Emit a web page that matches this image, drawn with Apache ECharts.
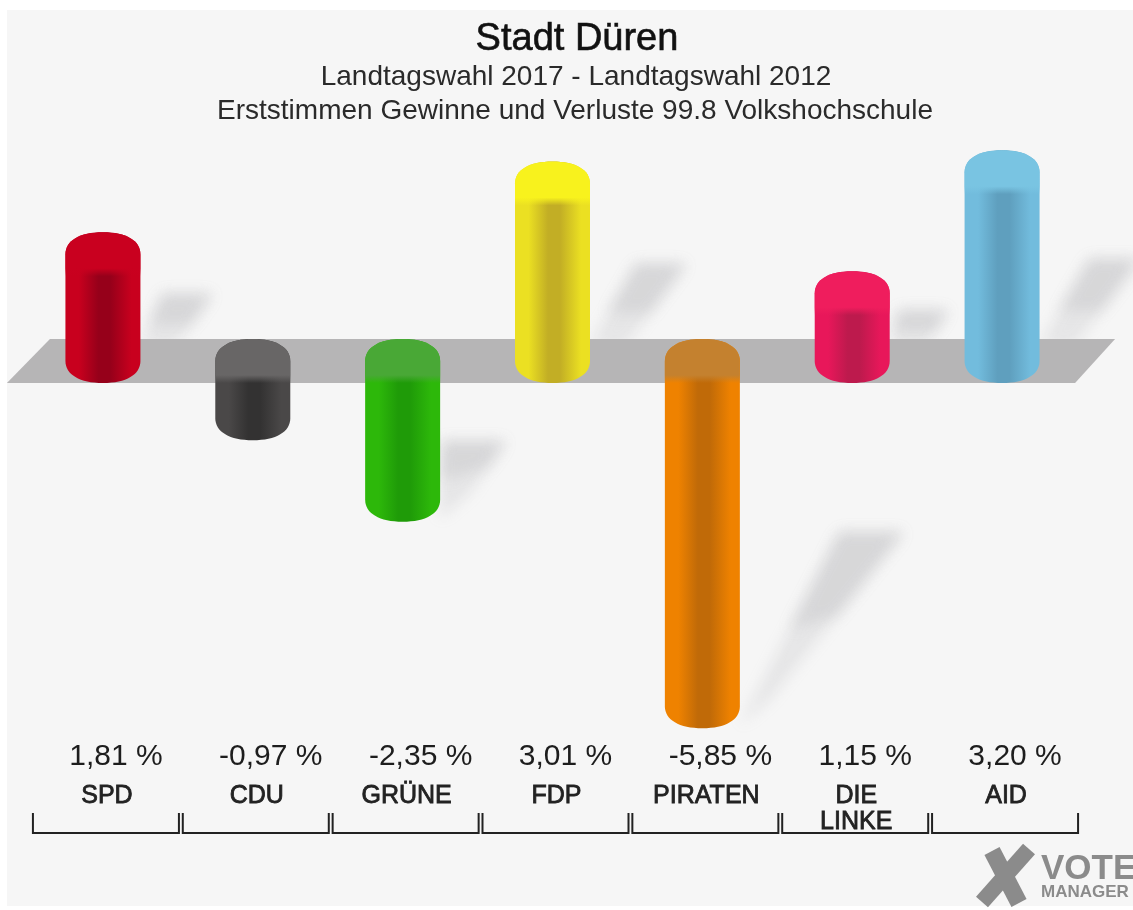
<!DOCTYPE html>
<html><head><meta charset="utf-8">
<style>html,body{margin:0;padding:0;background:#fff}#c{width:1133px;height:910px}</style>
<script src="https://cdn.jsdelivr.net/npm/echarts@6/dist/echarts.min.js"></script>
</head><body><div id="c"></div>
<script>
const categories = ['SPD','CDU','GRÜNE','FDP','PIRATEN','DIE\nLINKE','AID'];
const values = [1.81,-0.97,-2.35,3.01,-5.85,1.15,3.20];
const edgeColors = ['#c8001e','#4a4848','#2db80a','#ebe022','#ef8200','#e8175a','#72bcdd'];
const coreColors = ['#96001a','#333232','#1f9b08','#c2ae25','#c06a08','#bd1a4d','#5f9fbe'];
const capColors  = ['#c9001f','#686666','#49a836','#f8f21d','#c4812f','#ef1d5d','#79c4e2'];

const FONT = '"Liberation Sans", Arial, Helvetica, sans-serif';
const HALF = 37.5, RY = 22;

function capsule(x0, x1, yTop, yBot) {
  const c = (x0 + x1) / 2, k = 0.62;
  const h = (x1 - x0) / 2 * k, v = RY * k;
  return `M${x0} ${yTop+RY} C${x0} ${yTop+RY-v} ${c-h} ${yTop} ${c} ${yTop} C${c+h} ${yTop} ${x1} ${yTop+RY-v} ${x1} ${yTop+RY} L${x1} ${yBot-RY} C${x1} ${yBot-RY+v} ${c+h} ${yBot} ${c} ${yBot} C${c-h} ${yBot} ${x0} ${yBot-RY+v} ${x0} ${yBot-RY} Z`;
}
function capTop(x0, x1, yTop) {
  const c = (x0 + x1) / 2, k = 0.62;
  const h = (x1 - x0) / 2 * k, v = RY * k;
  return `M${x0} ${yTop+2*RY} L${x0} ${yTop+RY} C${x0} ${yTop+RY-v} ${c-h} ${yTop} ${c} ${yTop} C${c+h} ${yTop} ${x1} ${yTop+RY-v} ${x1} ${yTop+RY} L${x1} ${yTop+2*RY} Z`;
}
function hGrad(edge, core) {
  return {type:'linear',x:0,y:0,x2:1,y2:0,colorStops:[
    {offset:0,color:edge},{offset:.18,color:edge},{offset:.44,color:core},{offset:.6,color:core},{offset:.88,color:edge},{offset:1,color:edge}]};
}
function renderBand(params, api) {
  const a = api.coord([0, 0]), b = api.coord([categories.length - 1, 0]);
  return {type:'polygon', shape:{points:[
    [a[0]-53,a[1]-RY],[b[0]+113,b[1]-RY],[b[0]+73,b[1]+RY],[a[0]-96,a[1]+RY]]},
    style:{fill:'#b6b5b6'}};
}
const AWAY = 3000;
function renderShadow(params, api) {
  const v = api.value(1), i = api.value(0);
  const base = api.coord([i, 0]), tip = api.coord([i, v]);
  const R = base[0] + HALF;
  const m = Math.abs(v);
  let pts;
  if (v >= 0) {
    const y = base[1] - RY + 6, dy = 25*m + 6, dx = 20*m;
    pts = [[R,y],[R+36,y],[R+36+dx,y-dy],[R+dx-14,y-dy]];
  } else {
    if (m < 1) return null;
    const y = tip[1] + RY - 3, dy = 33*m, dx = 28*m;
    pts = [[R,y],[R+dx-64,y-dy],[R+dx,y-dy],[R+30,y-26]];
  }
  const mid = (a,b,t)=>[a[0]+(b[0]-a[0])*t,a[1]+(b[1]-a[1])*t];
  const upper = v >= 0
    ? [mid(pts[1],pts[2],.4),pts[2],pts[3],mid(pts[0],pts[3],.4)]
    : [pts[1],pts[2],mid(pts[2],pts[3],.5),mid(pts[1],pts[0],.5)];
  const soft = (p,a,blur)=>({type:'polygon',shape:{points:p.map(q=>[q[0]-AWAY,q[1]])},
    style:{fill:'#000',shadowBlur:blur,shadowOffsetX:AWAY,shadowColor:'rgba(175,175,178,'+a+')'}});
  return {type:'group',children:[soft(pts,.22,14),soft(upper,.28,14)]};
}
function renderBar(params, api) {
  const i = api.value(0), v = api.value(1);
  const base = api.coord([i, 0]), end = api.coord([i, v]);
  const x0 = base[0]-HALF, x1 = base[0]+HALF;
  const yTop = Math.min(base[1], end[1]) - RY, yBot = Math.max(base[1], end[1]) + RY;
  return {type:'group', children:[
    {type:'path', shape:{pathData:capsule(x0,x1,yTop,yBot)}, style:{fill:hGrad(edgeColors[i],coreColors[i])}},
    {type:'path', shape:{pathData:capTop(x0,x1,yTop)}, style:{fill:{type:'linear',x:0,y:0,x2:0,y2:1,colorStops:[
      {offset:0,color:capColors[i]},{offset:.82,color:capColors[i]},{offset:1,color:capColors[i]+'00'}]}}}
  ]};
}
function renderBracket(params, api) {
  const i = api.value(0);
  const p = api.coord([i, -8]);
  return {type:'polyline', shape:{points:[[p[0]-70,p[1]-20],[p[0]-70,p[1]],[p[0]+76,p[1]],[p[0]+76,p[1]-20]]},
    style:{stroke:'#222',lineWidth:2,fill:'none'}};
}
function renderValue(params, api) {
  const i = api.value(0), v = api.value(1);
  const p = api.coord([i, -6.70]);
  return {type:'text', x:p[0]+(v<0?18:13), y:p[1], style:{
    text:v.toFixed(2).replace('.',',')+' %', font:'30px '+FONT, fill:'#1d1d1d', align:'center', verticalAlign:'middle'}};
}
const seriesData = values.map((v,i)=>[i,v]);
const custom = (name,renderItem,z,data)=>({name,type:'custom',coordinateSystem:'cartesian2d',renderItem,z,data:data||seriesData,clip:false,silent:true,animation:false});

const chart = echarts.init(document.getElementById('c'), null, {renderer:'canvas'});
chart.setOption({
  animation:false,
  backgroundColor:'#ffffff',
  title:[
    {text:'Stadt Düren',left:572,top:16,textAlign:'center',textStyle:{fontFamily:FONT,fontSize:38,fontWeight:'normal',color:'#111',textBorderColor:'#111',textBorderWidth:.6}},
    {text:'Landtagswahl 2017 - Landtagswahl 2012',left:571,top:58,textAlign:'center',textStyle:{fontFamily:FONT,fontSize:28,fontWeight:'normal',color:'#2a2a2a'}},
    {text:'Erststimmen Gewinne und Verluste 99.8 Volkshochschule',left:570,top:92,textAlign:'center',textStyle:{fontFamily:FONT,fontSize:28,fontWeight:'normal',color:'#2a2a2a'}}
  ],
  graphic:[
    {type:'rect',z:-10,shape:{x:7,y:10,width:1126,height:896},style:{fill:'#f6f6f6'},silent:true},
    {type:'group',z:5,silent:true,children:[
      {type:'line',shape:{x1:982,y1:902,x2:1029,y2:849},style:{stroke:'#8b8b8b',lineWidth:16}},
      {type:'line',shape:{x1:992,y1:851,x2:1019,y2:903},style:{stroke:'#8b8b8b',lineWidth:17}},
      {type:'text',x:1041,y:852,style:{text:'VOTE',font:'bold 35px '+FONT,fill:'#8b8b8b'}},
      {type:'text',x:1041,y:884,style:{text:'MANAGER',font:'bold 17px '+FONT,fill:'#8b8b8b'}}
    ]}
  ],
  grid:{left:28,top:125,width:1049,height:708,containLabel:false},
  xAxis:{type:'category',data:categories,axisLine:{show:false},axisTick:{show:false},splitLine:{show:false},
    axisLabel:{inside:true,margin:50,verticalAlign:'top',interval:0,padding:[0,0,0,8],fontFamily:FONT,fontSize:25,lineHeight:26,fontWeight:'normal',color:'#222',textBorderColor:'#222',textBorderWidth:.8}},
  yAxis:{type:'value',min:-8,max:4,interval:2,show:false,splitLine:{show:false}},
  series:[
    custom('Schatten',renderShadow,1),
    custom('Ebene',renderBand,2,[[0,0]]),
    custom('Gewinne und Verluste',renderBar,3),
    custom('Klammern',renderBracket,4),
    custom('Werte',renderValue,5)
  ]
});
</script></body></html>
